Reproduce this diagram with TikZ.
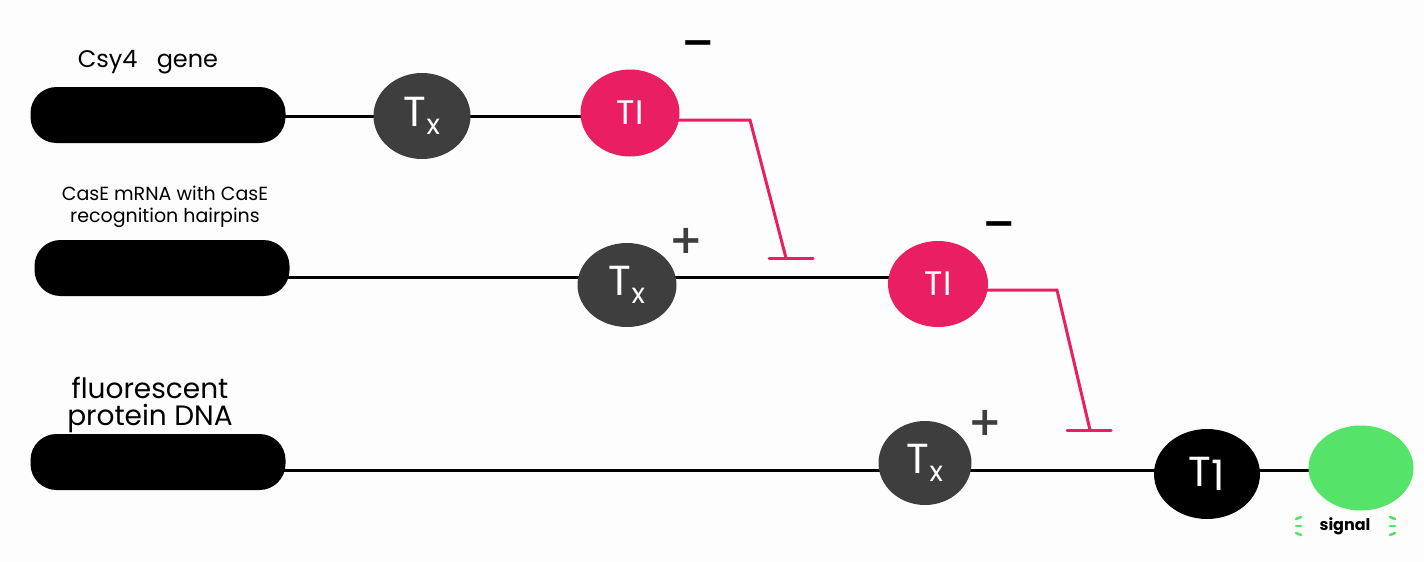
\documentclass[tikz,border=0pt]{standalone}
\usepackage{fontspec}
\setmainfont{Poppins}
\newfontfamily\symfont{DejaVu Sans}
\usetikzlibrary{backgrounds,shapes.geometric}
\definecolor{tipink}{RGB}{233,30,99}
\definecolor{txgray}{RGB}{62,62,62}
\definecolor{siggreen}{RGB}{85,228,105}
\definecolor{bg}{RGB}{253,253,253}
\newcommand{\txlabel}{T{\fontsize{28}{28}\selectfont\raisebox{-8pt}{x}}}
\tikzset{
  genebar/.style={fill=black, rounded corners=26pt, minimum width=255pt, minimum height=56pt, inner sep=0pt},
  blob/.style={ellipse, inner sep=0pt, text=white, font=\fontsize{42}{42}\selectfont},
  txnode/.style={blob, fill=txgray},
  tinode/.style={blob, fill=tipink, font=\fontsize{34}{34}\selectfont},
  wire/.style={line width=3pt, black},
  inhib/.style={draw=tipink, line width=3pt},
  signlbl/.style={font=\symfont\bfseries\fontsize{40}{40}\selectfont, inner sep=0pt},
  genelbl/.style={font=\fontsize{24}{26}\selectfont, align=center, inner sep=0pt},
  glow/.style={siggreen, line width=2.6pt, line cap=round}
}
\begin{document}
\begin{tikzpicture}[x=1pt,y=-1pt]
\begin{pgfonlayer}{background}
\fill[bg] (0,0) rectangle (1424,562);
\end{pgfonlayer}
\useasboundingbox (0,0) rectangle (1424,562);

% gene bars
\node[genebar] (g1) at (158,115) {};
\node[genebar] (g2) at (162,268) {};
\node[genebar] (g3) at (158,462) {};

% labels
\node[genelbl] (l1) at (148,62) {Csy4\ \ \ gene};
\node[genelbl, font=\fontsize{19}{22}\selectfont] (l2) at (165,207) {CasE mRNA with CasE\\recognition hairpins};
\node[genelbl, font=\fontsize{28}{27}\selectfont] (l3) at (150,405) {fluorescent\\protein DNA};

% row 1
\node[txnode, minimum width=97pt, minimum height=86pt] (tx1) at (422,116) {\txlabel};
\node[tinode, minimum width=99pt, minimum height=87pt] (ti1) at (630,113) {TI};
% row 2
\node[txnode, minimum width=99pt, minimum height=84pt] (tx2) at (627,285) {\txlabel};
\node[tinode, minimum width=100pt, minimum height=86pt] (ti2) at (938,284) {TI};
% row 3
\node[txnode, minimum width=93pt, minimum height=84pt] (tx3) at (925,463) {\txlabel};
\node[blob, fill=black, minimum width=106pt, minimum height=90pt] (t1) at (1207,474) {T{\raisebox{-4pt}{1}}};
\node[ellipse, fill=siggreen, minimum width=105pt, minimum height=85pt] (sig) at (1361,468) {};

% signs
\node[signlbl] (m1) at (698,48) {−};
\node[signlbl, text=txgray] (p2) at (686,241) {+};
\node[signlbl] (m2) at (999,229) {−};
\node[signlbl, text=txgray] (p3) at (985,423) {+};

% signal label
\node[font=\bfseries\fontsize{16}{16}\selectfont, inner sep=0pt] (st) at (1345,526) {signal};
\coordinate (gl) at (1301,526);
\coordinate (gr) at (1390,526);
\draw[glow] ([yshift=-9pt]gl) -- ++(-5,-2);
\draw[glow] (gl) -- ++(-5,0);
\draw[glow] ([yshift=9pt]gl) -- ++(-5,2);
\draw[glow] ([yshift=-9pt]gr) -- ++(5,-2);
\draw[glow] (gr) -- ++(5,0);
\draw[glow] ([yshift=9pt]gr) -- ++(5,2);

% wires
\coordinate (w1) at (0,116);
\coordinate (w2) at (0,277);
\coordinate (w3) at (0,470);
\begin{pgfonlayer}{background}
\draw[wire] ([xshift=-2pt]g1.east |- w1) -- (ti1.center |- w1);
\draw[wire] ([xshift=-2pt]g2.east |- w2) -- (ti2.center |- w2);
\draw[wire] ([xshift=-2pt]g3.east |- w3) -- (sig.center |- w3);
\end{pgfonlayer}

% inhibition connectors
\coordinate (k1) at (750,120);
\coordinate (b1) at (786,258);
\coordinate (b1l) at (769,258);
\coordinate (b1r) at (813,258);
\coordinate (k2) at (1057,290);
\coordinate (b2) at (1090,430);
\coordinate (b2l) at (1067,430);
\coordinate (b2r) at (1111,430);
\begin{pgfonlayer}{background}
\draw[inhib] (ti1.center |- k1) -- (k1) -- (b1);
\draw[inhib] (ti2.center |- k2) -- (k2) -- (b2);
\end{pgfonlayer}
\draw[inhib, line cap=round] (b1l) -- (b1r);
\draw[inhib, line cap=round] (b2l) -- (b2r);
\end{tikzpicture}
\end{document}
